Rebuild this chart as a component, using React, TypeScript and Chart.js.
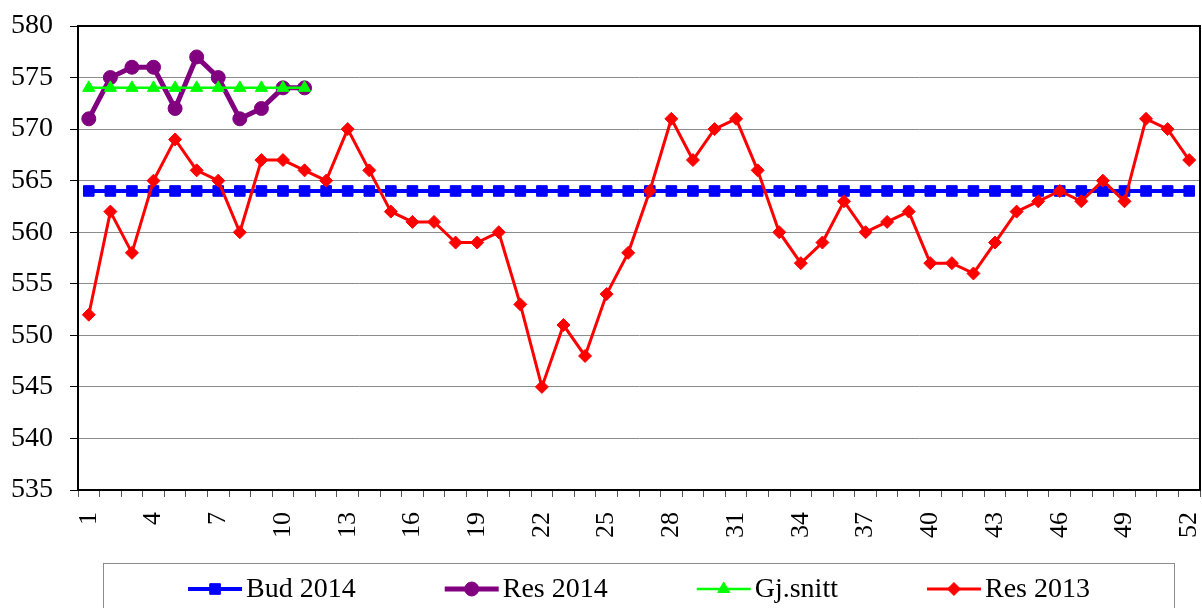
import React, { useEffect, useRef } from 'react';
import { Chart, registerables } from 'chart.js';
import { drawPoint } from 'chart.js/helpers';

Chart.register(...registerables);

const FONT = '"Liberation Serif", "Times New Roman", Times, serif';

const weeks = [
  '1', '2', '3', '4', '5', '6', '7', '8', '9', '10', '11', '12', '13',
  '14', '15', '16', '17', '18', '19', '20', '21', '22', '23', '24', '25', '26',
  '27', '28', '29', '30', '31', '32', '33', '34', '35', '36', '37', '38', '39',
  '40', '41', '42', '43', '44', '45', '46', '47', '48', '49', '50', '51', '52',
];

const xTickLabels = ['1', '4', '7', '10', '13', '16', '19', '22', '25', '28', '31', '34', '37', '40', '43', '46', '49', '52'];

const bud2014 = [
  564, 564, 564, 564, 564, 564, 564, 564, 564, 564, 564, 564, 564,
  564, 564, 564, 564, 564, 564, 564, 564, 564, 564, 564, 564, 564,
  564, 564, 564, 564, 564, 564, 564, 564, 564, 564, 564, 564, 564,
  564, 564, 564, 564, 564, 564, 564, 564, 564, 564, 564, 564, 564,
];

const res2014 = [571, 575, 576, 576, 572, 577, 575, 571, 572, 574, 574];

const gjSnitt = [574, 574, 574, 574, 574, 574, 574, 574, 574, 574, 574];

const res2013 = [
  552, 562, 558, 565, 569, 566, 565, 560, 567, 567, 566, 565, 570,
  566, 562, 561, 561, 559, 559, 560, 553, 545, 551, 548, 554, 558,
  564, 571, 567, 570, 571, 566, 560, 557, 559, 563, 560, 561, 562,
  557, 557, 556, 559, 562, 563, 564, 563, 565, 563, 571, 570, 567,
];

const yMin = 535;
const yMax = 580;
const yStep = 5;

const frameAndLegend = {
  id: 'frameAndLegend',
  beforeDatasetsDraw(chart: any) {
    const { ctx, chartArea: a } = chart;
    ctx.save();
    ctx.strokeStyle = '#000000';
    ctx.lineWidth = 2;
    ctx.strokeRect(a.left, a.top, a.right - a.left, a.bottom - a.top);
    ctx.restore();
  },
  afterDraw(chart: any) {
    const { ctx, chartArea: a } = chart;
    const top = chart.scales.x.bottom;
    ctx.save();
    ctx.strokeStyle = '#8c8c8c';
    ctx.lineWidth = 1;
    ctx.strokeRect(Math.round(a.left + 25) + 0.5, Math.round(top) + 0.5, a.right - a.left - 51, 120);

    ctx.font = `28px ${FONT}`;
    const sample = 54;
    const gap = 4;
    const itemGap = 89;
    const items = chart.data.datasets.map((ds: any) => ({ ds, w: ctx.measureText(ds.label).width }));
    const total = items.reduce((s: number, it: any) => s + sample + gap + it.w, 0) + itemGap * (items.length - 1);
    let x = (a.left + a.right) / 2 - total / 2;
    const lineY = top + 26;
    const textY = top + 34;
    items.forEach(({ ds, w }: any) => {
      ctx.strokeStyle = ds.borderColor;
      ctx.lineWidth = ds.borderWidth;
      ctx.lineCap = 'butt';
      ctx.beginPath();
      ctx.moveTo(x, lineY);
      ctx.lineTo(x + sample, lineY);
      ctx.stroke();
      ctx.fillStyle = ds.pointBackgroundColor;
      ctx.strokeStyle = ds.pointBorderColor;
      ctx.lineWidth = 1;
      drawPoint(ctx, { pointStyle: ds.pointStyle, radius: ds.pointRadius, borderWidth: 1, rotation: 0 } as any, x + sample / 2, lineY);
      ctx.fillStyle = '#000000';
      ctx.textAlign = 'left';
      ctx.textBaseline = 'alphabetic';
      ctx.fillText(ds.label, x + sample + gap, textY);
      x += sample + gap + w + itemGap;
    });
    ctx.restore();
  },
};

export default function App() {
  const canvasRef = useRef<HTMLCanvasElement | null>(null);

  useEffect(() => {
    if (!canvasRef.current) return;
    const chart = new Chart(canvasRef.current, {
      type: 'line',
      data: {
        labels: weeks,
        datasets: [
          {
            label: 'Bud 2014',
            data: bud2014,
            borderColor: '#0000FF',
            backgroundColor: '#0000FF',
            pointBackgroundColor: '#0000FF',
            pointBorderColor: '#0000FF',
            borderWidth: 4,
            pointStyle: 'rect',
            pointRadius: 7.5,
            pointBorderWidth: 1,
            order: 4,
          },
          {
            label: 'Res 2014',
            data: res2014,
            borderColor: '#800080',
            backgroundColor: '#800080',
            pointBackgroundColor: '#800080',
            pointBorderColor: '#800080',
            borderWidth: 5,
            pointStyle: 'circle',
            pointRadius: 7,
            pointBorderWidth: 1,
            order: 3,
          },
          {
            label: 'Gj.snitt',
            data: gjSnitt,
            borderColor: '#00FF00',
            backgroundColor: '#00FF00',
            pointBackgroundColor: '#00FF00',
            pointBorderColor: '#00FF00',
            borderWidth: 2.5,
            pointStyle: 'triangle',
            pointRadius: 7,
            pointBorderWidth: 1,
            order: 2,
          },
          {
            label: 'Res 2013',
            data: res2013,
            borderColor: '#FF0000',
            backgroundColor: '#FF0000',
            pointBackgroundColor: '#FF0000',
            pointBorderColor: '#FF0000',
            borderWidth: 3,
            pointStyle: 'rectRot',
            pointRadius: 6.5,
            pointBorderWidth: 1,
            order: 1,
          },
        ],
      },
      options: {
        responsive: false,
        animation: false,
        layout: { autoPadding: false, padding: { top: 26, right: 2, bottom: 45, left: 0 } },
        plugins: {
          legend: { display: false },
          tooltip: { enabled: false },
        },
        elements: { line: { tension: 0 } },
        scales: {
          x: {
            type: 'category',
            offset: true,
            grid: {
              display: true,
              drawOnChartArea: false,
              drawTicks: true,
              tickLength: 7,
              offset: true,
              color: '#555555',
              tickColor: '#555555',
            },
            border: { display: true, color: '#000000', width: 2 },
            ticks: {
              autoSkip: false,
              maxRotation: 90,
              minRotation: 90,
              padding: 15,
              color: '#000000',
              font: { family: FONT, size: 26 },
              callback: function (this: any, value: any) {
                const lbl = this.getLabelForValue(value);
                return xTickLabels.includes(lbl) ? lbl : '';
              },
            },
            afterFit: (scale: any) => {
              scale.height = 73;
              scale.paddingLeft = 0;
              scale.paddingRight = 0;
            },
          },
          y: {
            min: yMin,
            max: yMax,
            grid: {
              color: '#8c8c8c',
              lineWidth: 1,
              drawTicks: true,
              tickLength: 8,
              tickColor: '#000000',
            },
            border: { display: true, color: '#000000', width: 2 },
            ticks: {
              stepSize: yStep,
              padding: 17,
              color: '#000000',
              font: { family: FONT, size: 28 },
            },
            afterFit: (scale: any) => {
              scale.width = 78;
              scale.paddingTop = 0;
              scale.paddingBottom = 0;
            },
          },
        },
      },
      plugins: [frameAndLegend],
    });
    return () => chart.destroy();
  }, []);

  return (
    <div style={{ position: 'absolute', left: 0, top: 0, width: 1202, height: 608, background: '#ffffff' }}>
      <canvas ref={canvasRef} width={1202} height={608} style={{ display: 'block' }} />
    </div>
  );
}
